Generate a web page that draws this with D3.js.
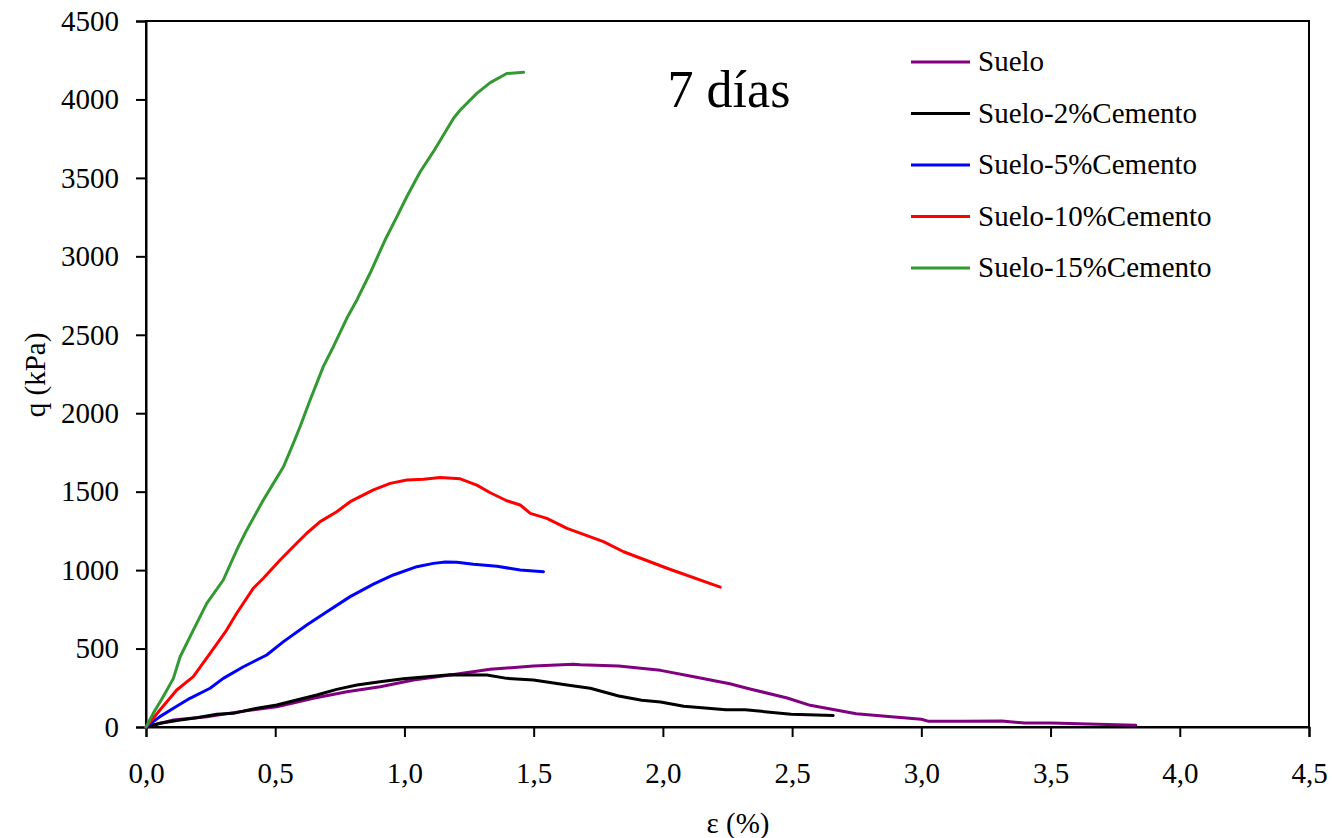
<!DOCTYPE html>
<html>
<head>
<meta charset="utf-8">
<script src="https://cdn.jsdelivr.net/npm/d3@7"></script>
<style>
  body { margin: 0; background: #fff; }
  svg, svg text { font-family: "Liberation Serif", "Times New Roman", serif; }
</style>
</head>
<body>
<div id="chart"></div>
<script>
// Series data: [strain %, q kPa]
const suelo = [
    [0, 0], [0.106, 45], [0.235, 66], [0.364, 98], [0.506, 129], [0.648, 183], [0.777, 225],
    [0.906, 257], [1.035, 300], [1.177, 331], [1.332, 368], [1.499, 389], [1.654, 400],
    [1.68, 397], [1.829, 389], [1.991, 361], [2.125, 319], [2.259, 276], [2.333, 244],
    [2.481, 185], [2.57, 138], [2.748, 85], [2.896, 64], [3.0, 49], [3.029, 36],
    [3.163, 36], [3.311, 38], [3.4, 25], [3.504, 25], [3.682, 17], [3.83, 11]
];
const suelo2 = [
    [0, 0], [0.054, 24], [0.132, 45], [0.196, 59], [0.274, 81], [0.338, 87], [0.415, 115],
    [0.506, 140], [0.583, 172], [0.661, 204], [0.738, 240], [0.816, 268], [0.906, 289],
    [0.996, 308], [1.087, 321], [1.177, 333], [1.319, 331], [1.396, 310], [1.499, 300],
    [1.629, 268], [1.719, 247], [1.829, 198], [1.918, 170], [1.991, 159], [2.081, 132],
    [2.244, 110], [2.318, 110], [2.496, 81], [2.659, 74]
];
const suelo5 = [
    [0, 0], [0.054, 66], [0.106, 119], [0.17, 183], [0.248, 247], [0.299, 310], [0.377, 384],
    [0.467, 459], [0.532, 544], [0.622, 650], [0.7, 735], [0.79, 831], [0.88, 911],
    [0.957, 969], [1.048, 1022], [1.112, 1043], [1.158, 1052], [1.203, 1050], [1.267, 1037],
    [1.358, 1024], [1.448, 1001], [1.538, 990]
];
const suelo10 = [
    [0, 0], [0.054, 108], [0.119, 236], [0.183, 321], [0.248, 470], [0.312, 618], [0.351, 725],
    [0.415, 884], [0.454, 948], [0.519, 1064], [0.583, 1171], [0.622, 1235], [0.674, 1309],
    [0.738, 1372], [0.79, 1436], [0.88, 1511], [0.945, 1553], [1.009, 1574], [1.074, 1579],
    [1.138, 1590], [1.216, 1582], [1.28, 1542], [1.332, 1493], [1.396, 1442], [1.448, 1415],
    [1.487, 1362], [1.551, 1330], [1.629, 1266], [1.77, 1181], [1.848, 1117], [2.016, 1012],
    [2.222, 891]
];
const suelo15 = [
    [0, 0], [0.028, 87], [0.067, 194], [0.106, 310], [0.132, 448], [0.183, 618], [0.235, 788],
    [0.299, 937], [0.351, 1128], [0.39, 1256], [0.454, 1447], [0.493, 1553], [0.532, 1659],
    [0.57, 1808], [0.596, 1914], [0.635, 2084], [0.686, 2297], [0.725, 2424], [0.777, 2605],
    [0.816, 2722], [0.867, 2892], [0.925, 3104], [0.971, 3253], [1.009, 3380], [1.061, 3539],
    [1.112, 3667], [1.151, 3773], [1.19, 3880], [1.216, 3933], [1.28, 4039], [1.332, 4107],
    [1.396, 4165], [1.461, 4173]
];

const seriesNames = ["Suelo", "Suelo-2%Cemento", "Suelo-5%Cemento", "Suelo-10%Cemento", "Suelo-15%Cemento"];
const seriesData = [suelo, suelo2, suelo5, suelo10, suelo15];
const seriesColors = ["#800080", "#000000", "#0000ff", "#ff0000", "#339933"];

const xTicks = [0, 0.5, 1.0, 1.5, 2.0, 2.5, 3.0, 3.5, 4.0, 4.5];
const yTicks = [0, 500, 1000, 1500, 2000, 2500, 3000, 3500, 4000, 4500];

const W = 1332, H = 838;
const margin = { top: 21, right: 23, bottom: 111, left: 146 };
const width = W - margin.left - margin.right;
const height = H - margin.top - margin.bottom;
const fontSize = "29px";

const svg = d3.select("#chart").append("svg")
    .attr("width", W)
    .attr("height", H);

const g = svg.append("g")
    .attr("transform", "translate(" + margin.left + "," + margin.top + ")");

const x = d3.scaleLinear().domain([0, 4.5]).range([0, width]);
const y = d3.scaleLinear().domain([0, 4500]).range([height, 0]);

// frame
g.append("rect")
    .attr("width", width)
    .attr("height", height)
    .style("fill", "none")
    .style("stroke", "#000")
    .style("stroke-width", 2);

const fmt = d => d.toFixed(1).replace(".", ",");

const xAxis = g.append("g")
    .attr("transform", "translate(0," + height + ")")
    .call(d3.axisBottom(x).tickValues(xTicks).tickFormat(fmt).tickSize(10).tickPadding(25));

const yAxis = g.append("g")
    .call(d3.axisLeft(y).tickValues(yTicks).tickFormat(d3.format("d")).tickSize(10).tickPadding(17));

[xAxis, yAxis].forEach(a => {
    a.attr("font-family", null).attr("font-size", null);
    a.select(".domain").style("stroke", "#000").style("stroke-width", 2);
    a.selectAll(".tick line").style("stroke", "#000").style("stroke-width", 2);
    a.selectAll(".tick text")
        .style("font-size", fontSize)
        .style("fill", "#000");
});

// curves
const line = d3.line()
    .x(d => x(d[0]))
    .y(d => y(d[1]));

seriesData.forEach((data, i) => {
    g.append("path")
        .datum(data)
        .attr("d", line)
        .style("fill", "none")
        .style("stroke", seriesColors[i])
        .style("stroke-width", 3)
        .style("stroke-linejoin", "round")
        .style("stroke-linecap", "round");
});

// axis titles
svg.append("text")
    .attr("x", 738)
    .attr("y", 833)
    .attr("text-anchor", "middle")
    .style("font-size", fontSize)
    .text("ε (%)");

svg.append("text")
    .attr("transform", "translate(45,375) rotate(-90)")
    .attr("text-anchor", "middle")
    .style("font-size", fontSize)
    .text("q (kPa)");

// annotation
svg.append("text")
    .attr("x", 729)
    .attr("y", 107)
    .attr("text-anchor", "middle")
    .style("font-size", "52px")
    .text("7 días");

// legend
const legend = svg.append("g").attr("transform", "translate(911,62)");
seriesNames.forEach((name, i) => {
    const row = legend.append("g").attr("transform", "translate(0," + (i * 51.5) + ")");
    row.append("line")
        .attr("x1", 0).attr("x2", 59)
        .attr("y1", 0).attr("y2", 0)
        .style("stroke", seriesColors[i])
        .style("stroke-width", 3);
    row.append("text")
        .attr("x", 67)
        .attr("y", 9)
        .style("font-size", fontSize)
        .text(name);
});
</script>
</body>
</html>
